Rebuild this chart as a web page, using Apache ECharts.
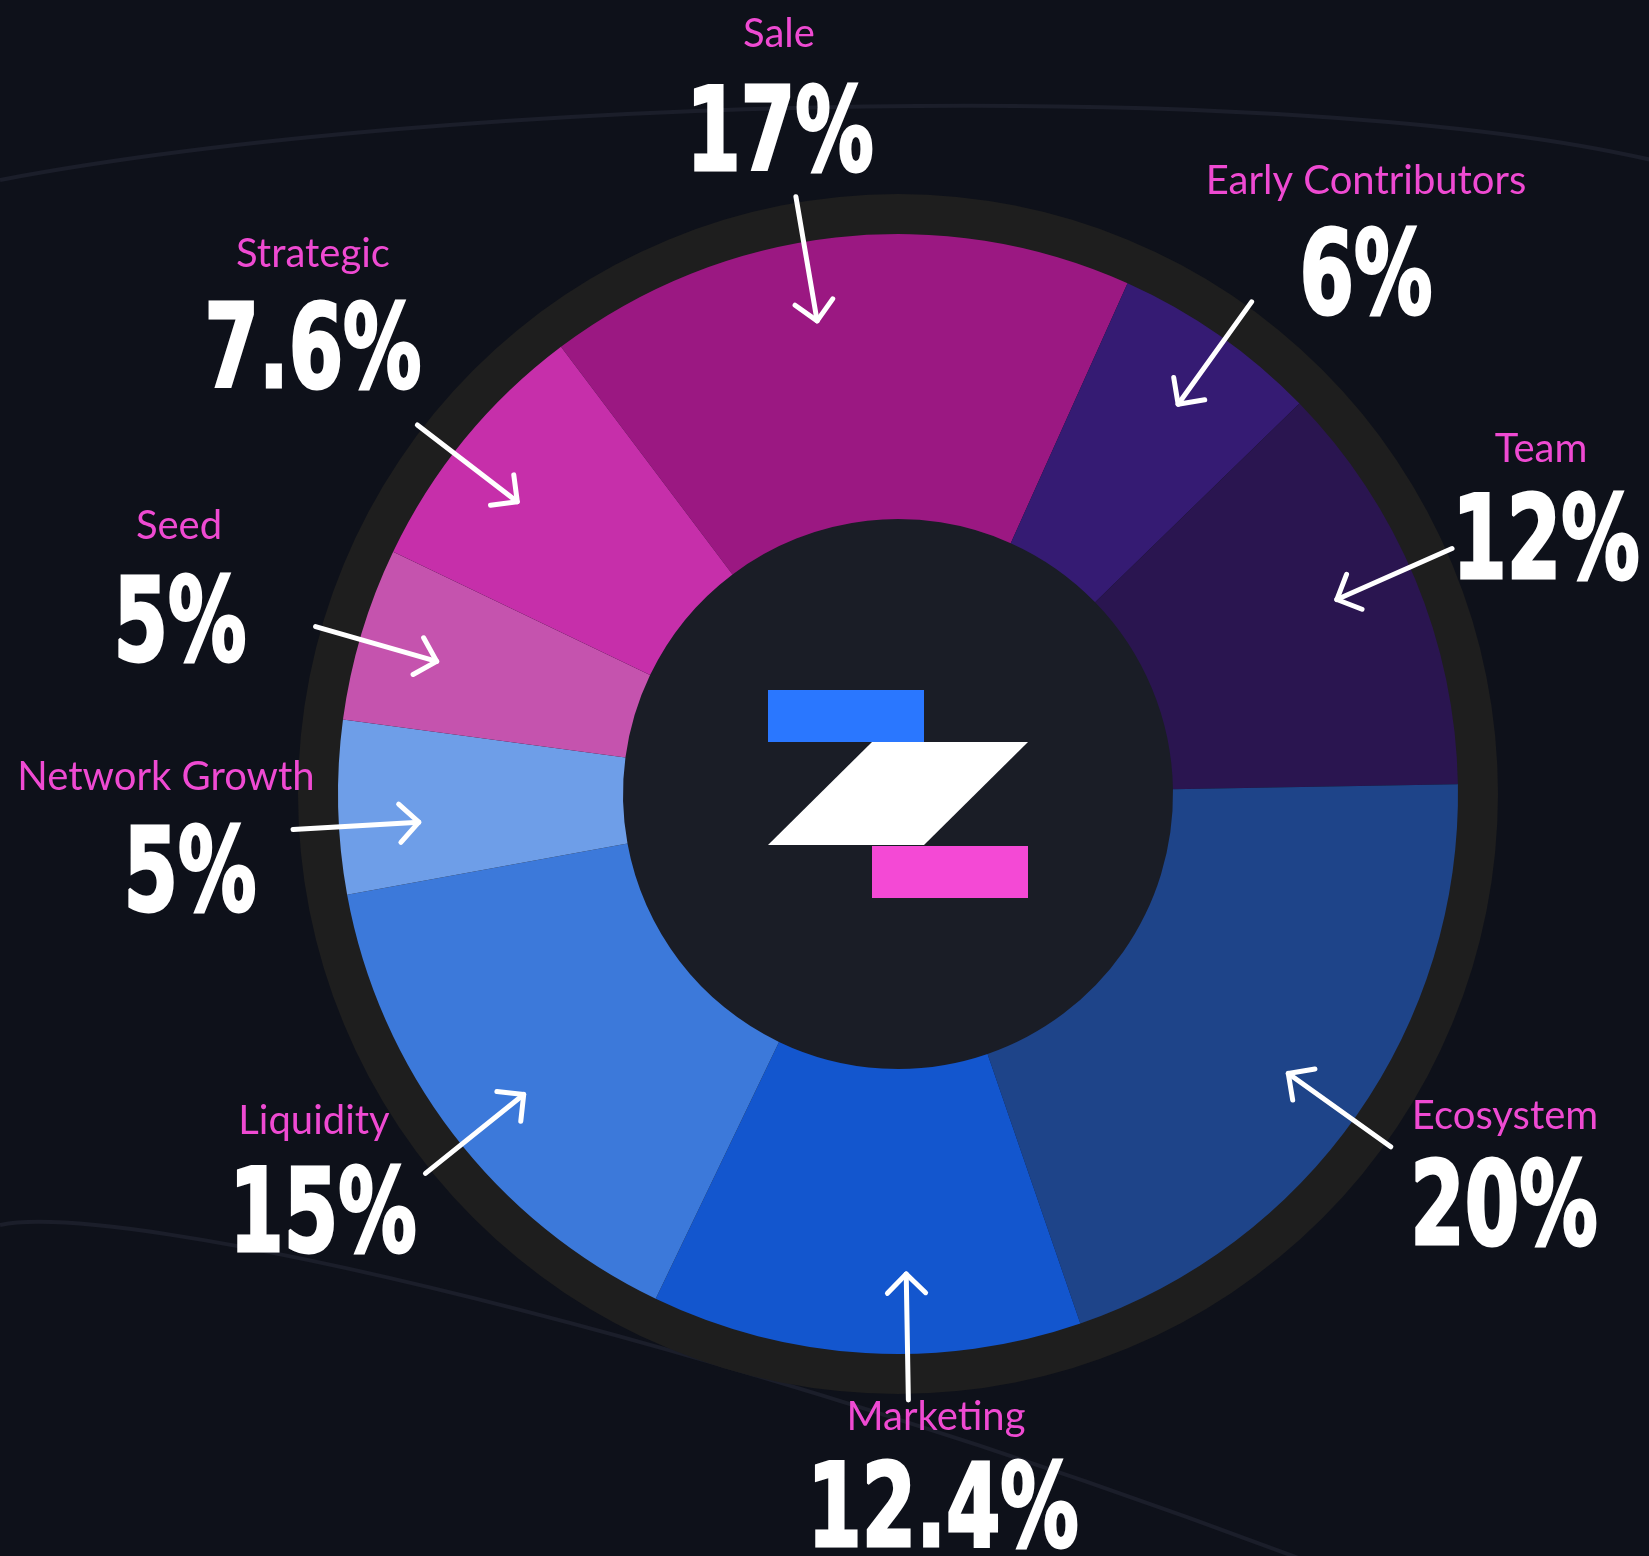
<!DOCTYPE html>
<html>
<head>
<meta charset="utf-8">
<script src="https://cdn.jsdelivr.net/npm/echarts@6/dist/echarts.min.js"></script>
<style>
  html, body { margin: 0; padding: 0; background: #0e111a; }
  #chart { width: 1649px; height: 1556px; }
</style>
</head>
<body>
<div id="chart"></div>
<script>
// token allocation, clockwise from the top
var names = ['Sale', 'Early Contributors', 'Team', 'Ecosystem', 'Marketing', 'Liquidity', 'Network Growth', 'Seed', 'Strategic']
var shares = [17, 6, 12, 20, 12.4, 15, 5, 5, 7.6]
var sliceColors = ['#9b1882', '#351b73', '#2a1550', '#1e4489', '#1356ce', '#3c79da', '#6e9ee8', '#c553ae', '#c62faa']

var CX = 898
var CY = 794
var R_IN = 275
var R_OUT = 560
var START = 127
// label placement relative to the centre (name line, then the big percentage)
var nameOffsets = [[-119, -760], [468, -613], [643, -345], [607, 322], [38, 623], [-584, 327], [-732, -17], [-719, -268], [-585, -540]]
var valueOffsets = [[-118, -654], [468, -511], [648, -246], [606, 420], [45, 722], [-575, 427], [-708, 86], [-718, -164], [-585, -437]]
// small turn (degrees) of each arrow away from the slice middle
var arrowNudge = [3.3, -0.7, 1.3, -0.6, 4.3, 1.4, 2, 0.6, 1.8]

var total = shares.reduce(function (a, b) { return a + b }, 0)

function midAngle (i) {
  var before = 0
  for (var k = 0; k < i; k++) before += shares[k]
  var a = START - (before + shares[i] / 2) / total * 360 + arrowNudge[i]
  return a * Math.PI / 180
}

var chart = echarts.init(document.getElementById('chart'))

var option = {
  backgroundColor: '#0e111a',
  animation: false,
  graphic: [
    { type: 'bezierCurve', z: -10, shape: { x1: 0, y1: 180, cpx1: 450, cpy1: 95, cpx2: 1300, cpy2: 75, x2: 1660, y2: 162 }, style: { stroke: '#1b1e2a', lineWidth: 4, fill: null } },
    { type: 'bezierCurve', z: -10, shape: { x1: 0, y1: 1225, cpx1: 120, cpy1: 1200, cpx2: 700, cpy2: 1330, x2: 1330, y2: 1570 }, style: { stroke: '#1b1e2a', lineWidth: 4, fill: null } },
    { type: 'ring', z: -5, shape: { cx: CX, cy: CY, r: 600, r0: R_OUT - 1 }, style: { fill: '#1e1e1e' } },
    { type: 'circle', z: -5, shape: { cx: CX, cy: CY, r: R_IN + 1 }, style: { fill: '#1a1d26' } },
    // logo
    { type: 'rect', z: 20, shape: { x: CX - 130, y: CY - 104, width: 156, height: 52 }, style: { fill: '#2a77ff' } },
    { type: 'polygon', z: 20, shape: { points: [[CX - 26, CY - 52], [CX + 130, CY - 52], [CX + 26, CY + 51], [CX - 130, CY + 51]] }, style: { fill: '#ffffff' } },
    { type: 'rect', z: 20, shape: { x: CX - 26, y: CY + 52, width: 156, height: 52 }, style: { fill: '#f449d5' } }
  ],
  series: [
    {
      type: 'pie',
      center: [CX, CY],
      radius: [R_IN, R_OUT],
      startAngle: START,
      clockwise: true,
      avoidLabelOverlap: false,
      silent: true,
      data: names.map(function (n, i) {
        return { name: n, value: shares[i], itemStyle: { color: sliceColors[i] } }
      }),
      label: {
        show: true,
        position: 'outside',
        formatter: '{b}',
        fontFamily: 'Lato, "Noto Sans", sans-serif',
        fontSize: 40,
        color: '#ef4ad2'
      },
      labelLine: { show: false },
      labelLayout: function (params) {
        var o = nameOffsets[params.dataIndex]
        return { x: CX + o[0], y: CY + o[1], align: 'center', verticalAlign: 'middle' }
      }
    },
    {
      // big percentages, and arrows from each label into its slice
      type: 'custom',
      coordinateSystem: 'none',
      silent: true,
      z: 5,
      data: shares,
      renderItem: function (params, api) {
        var i = params.dataIndex
        var a = midAngle(i)
        var cos = Math.cos(a)
        var sin = -Math.sin(a)
        var tip = [CX + 480 * cos, CY + 480 * sin]
        var tail = [CX + 606 * cos, CY + 606 * sin]
        var dx = -cos
        var dy = -sin
        var head = 27
        var spread = Math.PI / 4
        function arm (sign) {
          var c = Math.cos(sign * spread)
          var s = Math.sin(sign * spread)
          var bx = -(dx * c - dy * s)
          var by = -(dx * s + dy * c)
          return [tip[0] + head * bx, tip[1] + head * by]
        }
        var lineStyle = { stroke: '#ffffff', lineWidth: 5, lineCap: 'round', lineJoin: 'round', fill: null }
        var v = valueOffsets[i]
        return {
          type: 'group',
          children: [
            { type: 'line', shape: { x1: tail[0], y1: tail[1], x2: tip[0], y2: tip[1] }, style: lineStyle },
            { type: 'polyline', shape: { points: [arm(1), tip, arm(-1)] }, style: lineStyle },
            {
              type: 'text',
              x: CX + v[0],
              y: CY + v[1],
              scaleX: 0.75,
              style: {
                text: api.value(0) + '%',
                fontFamily: '"DejaVu Sans Condensed", "DejaVu Sans", sans-serif',
                fontWeight: 'bold',
                fontSize: 116,
                fill: '#ffffff',
                stroke: '#ffffff',
                lineWidth: 3,
                align: 'center',
                verticalAlign: 'middle'
              }
            }
          ]
        }
      }
    }
  ]
}

chart.setOption(option)
</script>
</body>
</html>
